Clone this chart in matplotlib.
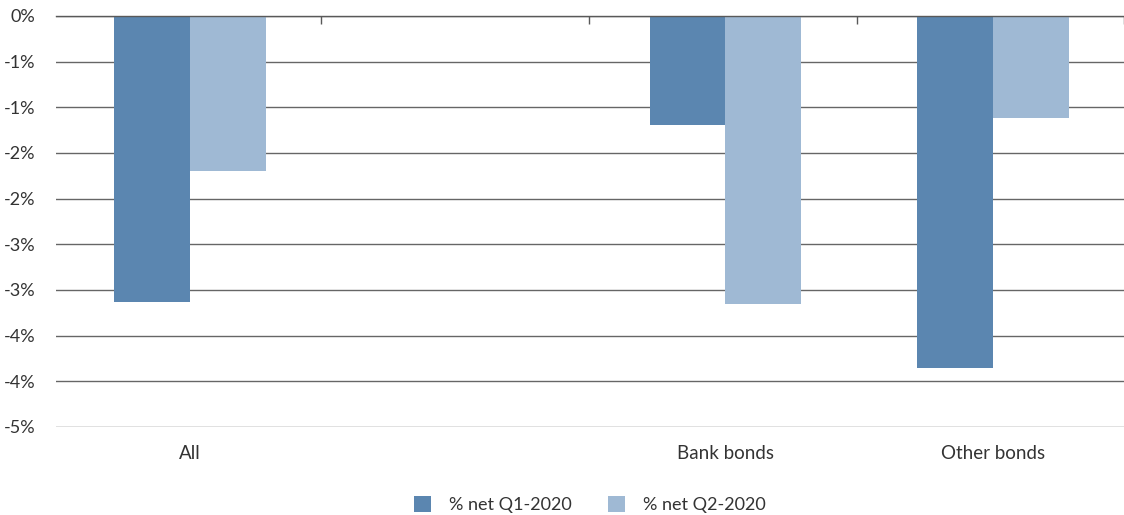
import matplotlib.pyplot as plt
import numpy as np

categories = ["All", "", "Bank bonds", "Other bonds"]
q1_2020 = [-3.13, np.nan, -1.195, -3.85]
q2_2020 = [-1.70, np.nan, -3.15, -1.115]
series_names = ["% net Q1-2020", "% net Q2-2020"]
y_ticks = [0, -0.5, -1.0, -1.5, -2.0, -2.5, -3.0, -3.5, -4.0, -4.5]
y_tick_labels = ["0%", "-1%", "-1%", "-2%", "-2%", "-3%", "-3%", "-4%", "-4%", "-5%"]

DARK = "#5b86b0"
LIGHT = "#9fb9d4"
TEXT = "#333333"


def draw():
    plt.rcParams["font.family"] = ["Lato", "DejaVu Sans"]
    fig = plt.figure(figsize=(11.24, 5.15), dpi=100)
    ax = fig.add_axes([0.0498, 0.171, 0.953, 0.798])

    x = np.arange(len(categories))
    w = 0.283
    ax.bar(x - w / 2, q1_2020, w, color=DARK, label=series_names[0], zorder=2)
    ax.bar(x + w / 2, q2_2020, w, color=LIGHT, label=series_names[1], zorder=2)

    ax.set_xlim(-0.5, len(categories) - 0.5)
    ax.set_ylim(-4.5, 0)
    ax.set_yticks(y_ticks)
    ax.set_yticklabels(y_tick_labels)
    ax.yaxis.grid(True, color="#666666", linewidth=1.0, zorder=1)
    ax.set_axisbelow(True)
    ax.tick_params(axis="y", length=0, pad=15, labelsize=13, labelcolor=TEXT)

    ax.set_xticks(x)
    ax.set_xticklabels(categories)
    ax.tick_params(axis="x", length=0, pad=13, labelsize=13.5, labelcolor=TEXT)

    for side in ["left", "right", "bottom"]:
        ax.spines[side].set_visible(False)
    ax.spines["top"].set_color("#595959")
    ax.spines["top"].set_linewidth(1.0)
    ax.spines["top"].set_zorder(3)

    # category boundary ticks hanging from the zero line
    top = ax.secondary_xaxis("top")
    top.set_xticks(np.arange(len(categories) + 1) - 0.51)
    top.set_xticklabels([])
    top.tick_params(direction="in", length=6, width=1, color="#595959")
    top.spines["top"].set_visible(False)

    fig.legend(
        loc="lower center",
        bbox_to_anchor=(0.525, -0.028),
        ncol=2,
        frameon=False,
        fontsize=13,
        labelcolor=TEXT,
        handlelength=0.95,
        handleheight=0.95,
        columnspacing=2.0,
        handletextpad=1.0,
    )

    fig.savefig("out.png", dpi=100)


def main():
    draw()


if __name__ == "__main__":
    main()
